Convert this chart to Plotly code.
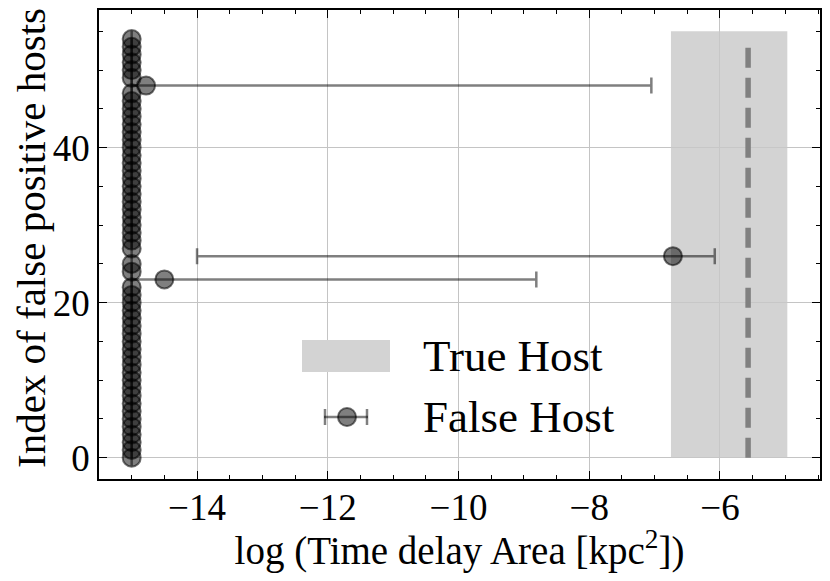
import plotly.graph_objects as go

# host index and log area of each false host
host_index = [0, 1, 2, 3, 4, 5, 6, 7, 8, 9, 10, 11, 12, 13, 14, 15, 16, 17, 18, 19,
              20, 21, 22, 23, 24, 25, 26, 27, 28, 29, 30, 31, 32, 33, 34, 35, 36, 37,
              38, 39, 40, 41, 42, 43, 44, 45, 46, 47, 48, 49, 50, 51, 52, 53, 54]
log_area = [-15.0, -15.0, -15.0, -15.0, -15.0, -15.0, -15.0, -15.0, -15.0, -15.0,
            -15.0, -15.0, -15.0, -15.0, -15.0, -15.0, -15.0, -15.0, -15.0, -15.0,
            -15.0, -15.0, -15.0, -14.5, -15.0, -15.0, -6.72, -15.0, -15.0, -15.0,
            -15.0, -15.0, -15.0, -15.0, -15.0, -15.0, -15.0, -15.0, -15.0, -15.0,
            -15.0, -15.0, -15.0, -15.0, -15.0, -15.0, -15.0, -15.0, -14.78, -15.0,
            -15.0, -15.0, -15.0, -15.0, -15.0]
err_minus = [0, 0, 0, 0, 0, 0, 0, 0, 0, 0, 0, 0, 0, 0, 0, 0, 0, 0, 0, 0,
             0, 0, 0, 0.5, 0, 0, 7.28, 0, 0, 0, 0, 0, 0, 0, 0, 0, 0, 0, 0, 0,
             0, 0, 0, 0, 0, 0, 0, 0, 0.22, 0, 0, 0, 0, 0, 0]
err_plus = [0, 0, 0, 0, 0, 0, 0, 0, 0, 0, 0, 0, 0, 0, 0, 0, 0, 0, 0, 0,
            0, 0, 0, 5.69, 0, 0, 0.64, 0, 0, 0, 0, 0, 0, 0, 0, 0, 0, 0, 0, 0,
            0, 0, 0, 0, 0, 0, 0, 0, 7.73, 0, 0, 0, 0, 0, 0]

# true host
true_lo, true_hi = -6.75, -4.97
true_value = -5.57
band_top = 55

FONT = "Liberation Serif"
# page body has an 8px margin, so the figure is a bit smaller than the window
OFF = 8
W, H = 814, 565
L, R, T, B = 91, 2, 2, 94

fig = go.Figure()

fig.add_trace(go.Scatter(
    x=[true_lo, true_hi, true_hi, true_lo, true_lo],
    y=[0, 0, band_top, band_top, 0],
    fill="toself", fillcolor="rgba(200,200,200,0.8)",
    line=dict(width=0), mode="lines", hoverinfo="skip", showlegend=False,
))
fig.add_trace(go.Scatter(
    x=[true_value, true_value], y=[0, band_top - 1],
    mode="lines", line=dict(color="#808080", width=5.5, dash="20px,10px"),
    showlegend=False,
))
fig.add_trace(go.Scatter(
    x=log_area, y=host_index, mode="markers",
    marker=dict(size=18, color="rgba(0,0,0,0.5)",
                line=dict(color="rgba(0,0,0,0.55)", width=2)),
    error_x=dict(type="data", symmetric=False, array=err_plus, arrayminus=err_minus,
                 color="rgba(0,0,0,0.5)", thickness=2.5, width=8),
    showlegend=False,
))

# hand drawn legend (window pixel positions -> paper coords)
def px(x):
    return (x - OFF - L) / (W - L - R)

def py(y):
    return (H - B - (y - OFF)) / (H - T - B)

shapes = [
    dict(type="rect", xref="paper", yref="paper", x0=px(302), x1=px(390),
         y0=py(372), y1=py(340), fillcolor="#d3d3d3", line=dict(width=0)),
    dict(type="line", xref="paper", yref="paper", x0=px(324), x1=px(368),
         y0=py(417), y1=py(417), line=dict(color="rgba(0,0,0,0.5)", width=2.5)),
    dict(type="line", xref="paper", yref="paper", x0=px(325), x1=px(325),
         y0=py(409), y1=py(425), line=dict(color="rgba(0,0,0,0.5)", width=2.5)),
    dict(type="line", xref="paper", yref="paper", x0=px(367), x1=px(367),
         y0=py(409), y1=py(425), line=dict(color="rgba(0,0,0,0.5)", width=2.5)),
    dict(type="circle", xref="paper", yref="paper", x0=px(338), x1=px(356),
         y0=py(426), y1=py(408), fillcolor="rgba(0,0,0,0.5)",
         line=dict(color="rgba(0,0,0,0.55)", width=2)),
]
annotations = [
    dict(text="True Host", xref="paper", yref="paper", x=px(421), y=py(356),
         xanchor="left", yanchor="middle", showarrow=False,
         font=dict(family=FONT, size=45, color="black")),
    dict(text="False Host", xref="paper", yref="paper", x=px(421), y=py(417),
         xanchor="left", yanchor="middle", showarrow=False,
         font=dict(family=FONT, size=45, color="black")),
    # y axis title placed by hand
    dict(text="Index of false positive hosts", xref="paper", yref="paper",
         x=px(31), y=py(238), xanchor="center", yanchor="middle",
         textangle=-90, showarrow=False,
         font=dict(family=FONT, size=41, color="black")),
]

axis_common = dict(
    showline=True, linecolor="black", linewidth=1.6, mirror="allticks",
    ticks="inside", ticklen=8, tickwidth=1.4, tickcolor="black",
    showgrid=True, gridcolor="#c4c4c4", gridwidth=1, zeroline=False,
    tickfont=dict(family=FONT, size=37, color="black"),
    automargin=False,
)

fig.update_layout(
    width=W, height=H,
    margin=dict(l=L, r=R, t=T, b=B),
    plot_bgcolor="white", paper_bgcolor="white",
    shapes=shapes, annotations=annotations,
    xaxis=dict(range=[-15.5, -4.47], dtick=2, tick0=0, ticklabelstandoff=-5,
               minor=dict(ticks="inside", ticklen=4, dtick=0.5, tickcolor="black",
                          tickwidth=1.2, showgrid=False),
               title=dict(text="log (Time delay Area [kpc<sup>2</sup>])", standoff=0,
                          font=dict(family=FONT, size=39, color="black")),
               **axis_common),
    yaxis=dict(range=[-2.75, 57.75], dtick=20, tick0=0,
               minor=dict(ticks="inside", ticklen=4, dtick=5, tickcolor="black",
                          tickwidth=1.2, showgrid=False),
               **axis_common),
)

fig.write_html("out.html")
